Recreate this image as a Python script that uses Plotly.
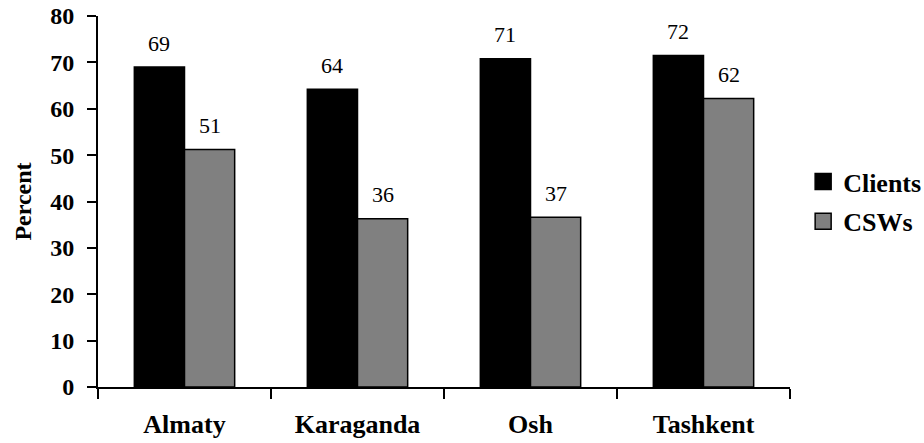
import plotly.graph_objects as go

# ---- data ----
cities = ["Almaty", "Karaganda", "Osh", "Tashkent"]
clients = [69.0, 64.2, 70.8, 71.5]
csws = [51.2, 36.3, 36.6, 62.2]
clients_labels = ["69", "64", "71", "72"]
csws_labels = ["51", "36", "37", "62"]
series_names = ["Clients", "CSWs"]
y_ticks = [0, 10, 20, 30, 40, 50, 60, 70, 80]

W, H = 924, 443
ML, MR, MT, MB = 98, 134, 16, 56
BARGAP = 0.42
FONT = "Liberation Serif, Times New Roman, serif"

fig = go.Figure()
colors = ["#000000", "#808080"]
for name, vals, col in zip(series_names, [clients, csws], colors):
    fig.add_trace(go.Bar(
        x=cities, y=vals, name=name, legendgroup=name,
        marker=dict(color=col, line=dict(color="#000000", width=1.5)),
        showlegend=False,
    ))
    # legend proxies with larger square symbols
    fig.add_trace(go.Scatter(
        x=[None], y=[None], mode="markers", name=name, legendgroup=name,
        marker=dict(symbol="square", size=18, color=col,
                    line=dict(color="#000000", width=1.5)),
        showlegend=True,
    ))

# value labels above bars
plot_w = W - ML - MR
bar_px = plot_w / len(cities) * (1 - BARGAP) / 2
for vals, labels, sgn in [(clients, clients_labels, -1), (csws, csws_labels, 1)]:
    for c, v, t in zip(cities, vals, labels):
        fig.add_annotation(x=c, y=v, text=t, showarrow=False,
                           xshift=sgn * bar_px / 2, yshift=24, yanchor="middle",
                           font=dict(family=FONT, size=22, color="#000000"))

fig.update_layout(
    width=W, height=H,
    margin=dict(l=ML, r=MR, t=MT, b=MB, autoexpand=False),
    paper_bgcolor="white", plot_bgcolor="white",
    barmode="group", bargap=BARGAP, bargroupgap=0,
    font=dict(family=FONT, color="#000000"),
    legend=dict(x=1.019, y=0.5, xanchor="left", yanchor="middle",
                font=dict(family=FONT, size=26, color="#000000", weight="bold"),
                itemsizing="trace", tracegroupgap=3, traceorder="grouped"),
    xaxis=dict(showline=True, linecolor="#000000", linewidth=2, automargin=False,
               ticks="outside", tickson="boundaries", ticklen=10, tickwidth=2,
               tickcolor="#000000", showgrid=False, ticklabelstandoff=13,
               tickfont=dict(family=FONT, size=26, color="#000000", weight="bold")),
    yaxis=dict(range=[0, 80], tickvals=y_ticks, showline=True, linecolor="#000000",
               linewidth=2, ticks="outside", ticklen=9, tickwidth=2, tickcolor="#000000",
               showgrid=False, zeroline=False, automargin=False, ticklabeloverflow="allow",
               ticklabelstandoff=8,
               tickfont=dict(family=FONT, size=24, color="#000000", weight="bold"),
               title=dict(text="Percent", standoff=12,
                          font=dict(family=FONT, size=24, color="#000000", weight="bold"))),
)

fig.write_html("out.html", config={"displayModeBar": False},
               post_script="document.body.style.margin='0';")
